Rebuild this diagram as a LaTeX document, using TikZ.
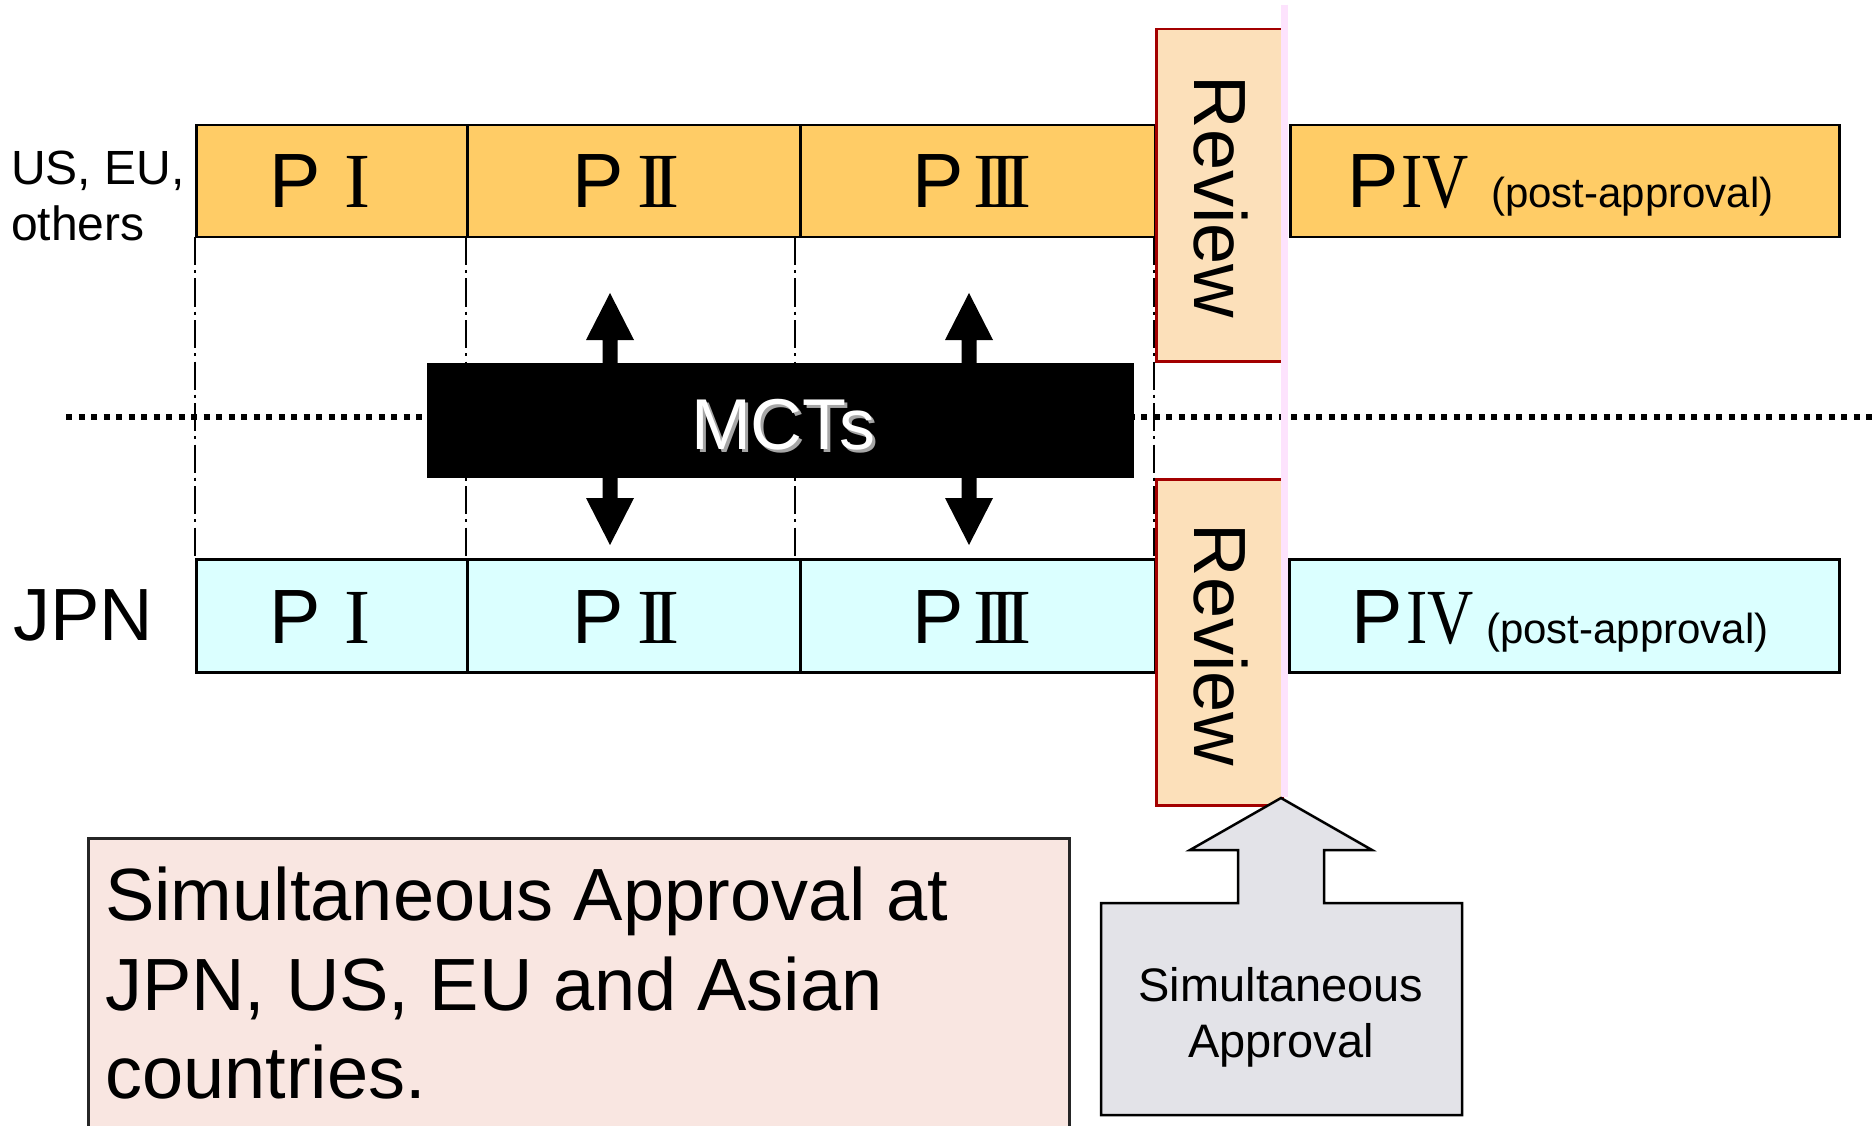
\documentclass[tikz,border=0pt]{standalone}
\usepackage{fontspec}
\setmainfont{Liberation Sans}
\newfontfamily\romfont{Liberation Serif}
\definecolor{orangebox}{HTML}{FFCC66}
\definecolor{cyanbox}{HTML}{DBFFFF}
\definecolor{reviewfill}{HTML}{FCE0BA}
\definecolor{reviewline}{HTML}{A30000}
\definecolor{pinkline}{HTML}{FDE3FD}
\definecolor{grayarrow}{HTML}{E3E3E8}
\definecolor{pinkbox}{HTML}{F9E6E1}
\newcommand\romOne{{\romfont\fontsize{78}{80}\selectfont I}}
\newcommand\romTwo{{\romfont\fontsize{78}{80}\selectfont I\kern-10pt I}}
\newcommand\romThree{{\romfont\fontsize{78}{80}\selectfont I\kern-10pt I\kern-10pt I}}
\newcommand\romFour{{\romfont\fontsize{78}{80}\selectfont\scalebox{0.82}[1]{IV}}}
\newcommand\postapp{{\fontsize{42}{44}\selectfont (post-approval)}}
\tikzset{
  phasebox/.style={draw=black, line width=2.5pt, inner sep=0pt, anchor=north west},
  upbox/.style={phasebox, fill=orangebox, minimum height=112pt},
  jpbox/.style={phasebox, fill=cyanbox, minimum height=113pt},
  revbox/.style={draw=reviewline, line width=2.5pt, fill=reviewfill, inner sep=0pt, anchor=north west, minimum width=126pt},
  lab/.style={inner sep=0pt, anchor=base west},
  plab/.style={lab, font=\fontsize{77}{80}\selectfont},
  dashdot/.style={line width=2.6pt, dash pattern=on 28pt off 5pt on 3pt off 5.5pt},
  revtext/.style={inner sep=0pt, rotate=-90, font=\fontsize{74}{76}\selectfont},
}
\begin{document}
\begin{tikzpicture}[x=1pt, y=-1pt]
\useasboundingbox (0,0) rectangle (1875,1126);
\fill[white] (0,0) rectangle (1875,1126);

% dotted mid line
\coordinate (dotL) at (66,417);
\coordinate (dotR) at (1875,417);
\draw[line width=6pt, dash pattern=on 6pt off 6.5pt] (dotL) -- (dotR);

% phase boxes, upper row
\node[upbox, minimum width=271pt] (p1u) at (195,124) {};
\node[upbox, minimum width=333pt] (p2u) at (466,124) {};
\node[upbox, minimum width=355pt] (p3u) at (799,124) {};
\node[upbox, minimum width=549pt] (p4u) at (1289,124) {};
% phase boxes, JPN row
\node[jpbox, minimum width=271pt] (p1j) at (195,558) {};
\node[jpbox, minimum width=333pt] (p2j) at (466,558) {};
\node[jpbox, minimum width=355pt] (p3j) at (799,558) {};
\node[jpbox, minimum width=550pt] (p4j) at (1288,558) {};

% dash-dot guide lines
\coordinate (g1t) at (195,237); \coordinate (g1b) at (195,558);
\coordinate (g2t) at (466,237); \coordinate (g2b) at (466,558);
\coordinate (g3t) at (795,237); \coordinate (g3b) at (795,558);
\draw[dashdot] (g1t) -- (g1b);
\draw[dashdot] (g2t) -- (g2b);
\draw[dashdot] (g3t) -- (g3b);

% double arrows
\foreach \c in {610,969}{
  \fill[black] (\c,293) -- (\c+24,340) -- (\c+7.5,340) -- (\c+7.5,498) -- (\c+24,498)
     -- (\c,545) -- (\c-24,498) -- (\c-7.5,498) -- (\c-7.5,340) -- (\c-24,340) -- cycle;
}

% MCTs box
\node[fill=black, inner sep=0pt, minimum width=707pt, minimum height=115pt, anchor=north west] (mcts) at (427,363) {};
\node[inner sep=0pt, anchor=base, text=gray!70, font=\fontsize{72}{74}\selectfont] (mctsshadow) at (786,452) {MCTs};
\node[inner sep=0pt, anchor=base, text=white, font=\fontsize{72}{74}\selectfont] (mctstext) at (783,449) {MCTs};

% review boxes
\node[revbox, minimum height=332pt] (revu) at (1155,28) {};
\node[revbox, minimum height=326pt] (revj) at (1155,478) {};
\coordinate (g4t) at (1154,237); \coordinate (g4b) at (1154,558);
\draw[dashdot] (g4t) -- (g4b);
\node[revtext] (revut) at (1221,197) {Review};
\node[revtext] (revjt) at (1221,645) {Review};

% pink vertical line
\coordinate (pkt) at (1284,5);
\coordinate (pkb) at (1284,797);
\draw[pinkline, line width=7pt] (pkt) -- (pkb);

% phase labels
\node[plab] (t1u) at (269,208) {P\hspace{24.2pt}\romOne};
\node[plab] (t2u) at (572,208) {P\hspace{14.2pt}\romTwo};
\node[plab] (t3u) at (912,208) {P\hspace{10.2pt}\romThree};
\node[plab] (t4u) at (1347,208) {P\hspace{2.6pt}\romFour\hspace{22.5pt}\postapp};
\node[plab] (t1j) at (269,643) {P\hspace{24.2pt}\romOne};
\node[plab] (t2j) at (572,643) {P\hspace{14.2pt}\romTwo};
\node[plab] (t3j) at (912,643) {P\hspace{10.2pt}\romThree};
\node[plab] (t4j) at (1351,643) {P\hspace{3.6pt}\romFour\hspace{12.5pt}\postapp};

% region labels
\node[lab, font=\fontsize{48}{50}\selectfont] (us1) at (11,185) {US, EU,};
\node[lab, font=\fontsize{48}{50}\selectfont] (us2) at (11,241) {others};
\node[lab, font=\fontsize{74}{76}\selectfont] (jpn) at (13,640) {JPN};

% simultaneous approval callout
\draw[line width=2.5pt, fill=grayarrow, line join=miter]
  (1281,798) -- (1372,850) -- (1324,850) -- (1324,903) -- (1462,903) -- (1462,1115)
  -- (1101,1115) -- (1101,903) -- (1238,903) -- (1238,850) -- (1190,850) -- cycle;
\node[inner sep=0pt, anchor=base, font=\fontsize{47}{49}\selectfont] (sa1) at (1281,1001) {Simultaneous};
\node[inner sep=0pt, anchor=base, font=\fontsize{47}{49}\selectfont] (sa2) at (1281,1057) {Approval};

% big statement box
\node[draw=black!85, line width=2.5pt, fill=pinkbox, inner sep=0pt, anchor=north west,
      minimum width=981pt, minimum height=320pt] (stmt) at (87,837) {};
\node[lab, font=\fontsize{74}{76}\selectfont] (st1) at (105,920) {Simultaneous Approval at};
\node[lab, font=\fontsize{74}{76}\selectfont] (st2) at (105,1010) {JPN, US, EU and Asian};
\node[lab, font=\fontsize{74}{76}\selectfont] (st3) at (105,1098) {countries.};
\end{tikzpicture}
\end{document}
